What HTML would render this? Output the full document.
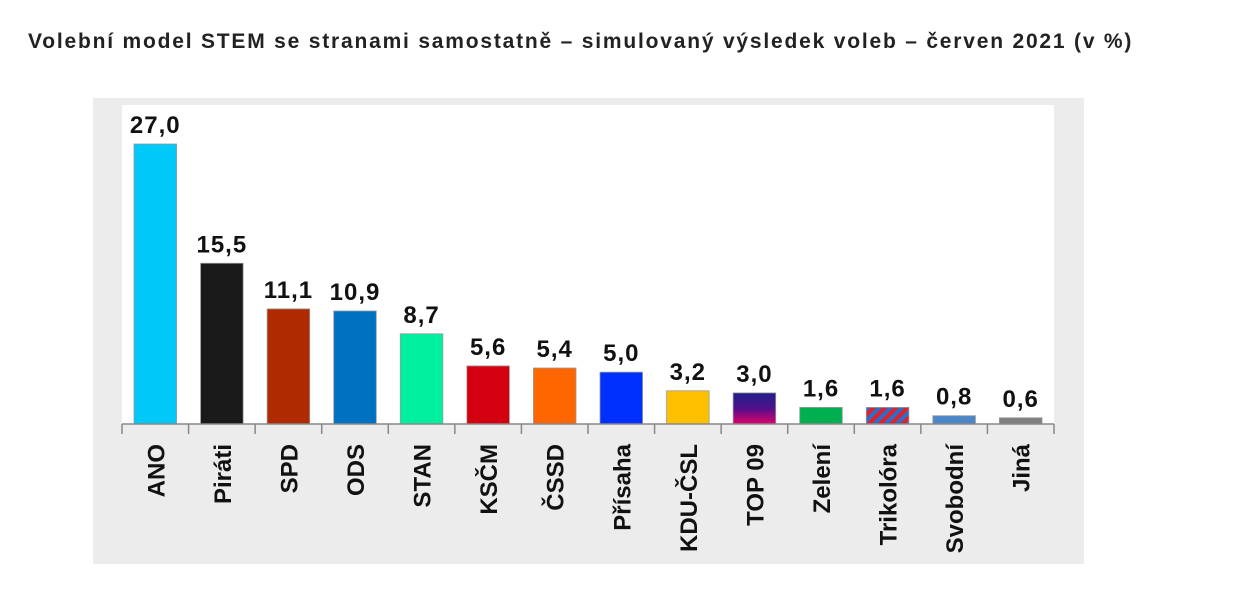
<!DOCTYPE html>
<html><head><meta charset="utf-8"><style>
body{margin:0;background:#fff;width:1237px;height:593px;overflow:hidden;font-family:"Liberation Sans",sans-serif}
#title{position:absolute;left:28px;top:30px;font-size:21px;letter-spacing:1.8px;font-weight:bold;color:#222;white-space:nowrap}
</style></head><body>
<div id="title">Volební model STEM se stranami samostatně – simulovaný výsledek voleb – červen 2021 (v %)</div>
<svg id="chart" style="position:absolute;left:0;top:0" width="1237" height="593">
<defs><pattern id="stripes" width="8" height="8" patternUnits="userSpaceOnUse" patternTransform="rotate(45)"><rect width="8" height="8" fill="#2a6fc9"/><rect width="4" height="8" fill="#e0202a"/></pattern></defs>
<rect x="93" y="98" width="991" height="466" fill="#ececec"/>
<rect x="122" y="105" width="932" height="319" fill="#fff"/>
<g id="g"></g>
</svg>
<script>
const categories=["ANO","Piráti","SPD","ODS","STAN","KSČM","ČSSD","Přísaha","KDU-ČSL","TOP 09","Zelení","Trikolóra","Svobodní","Jiná"];
const values=[27.0,15.5,11.1,10.9,8.7,5.6,5.4,5.0,3.2,3.0,1.6,1.6,0.8,0.6];
const colors=["#00c8f8","#1a1a1a","#b02a00","#0070c0","#00f0a0","#d40010","#ff6600","#0030ff","#ffc000","url(#tg)","#00b050","url(#stripes)","#4a86c8","#808080"];
const X0=122,X1=1054,Y0=424,PX=10.37;
const step=(X1-X0)/categories.length;
const x=i=>X0+i*step, y=v=>Y0-v*PX;
const ns="http://www.w3.org/2000/svg",g=document.getElementById('g');
function mk(t,a){const e=document.createElementNS(ns,t);for(const k in a)e.setAttribute(k,a[k]);g.appendChild(e);return e;}
const defs=document.querySelector('defs');
const lg=document.createElementNS(ns,'linearGradient');lg.setAttribute('id','tg');lg.setAttribute('x1','0');lg.setAttribute('y1','0');lg.setAttribute('x2','0');lg.setAttribute('y2','1');
[["0","#20208a"],["0.5","#50108a"],["1","#e0006a"]].forEach(s=>{const st=document.createElementNS(ns,'stop');st.setAttribute('offset',s[0]);st.setAttribute('stop-color',s[1]);lg.appendChild(st);});
defs.appendChild(lg);
categories.forEach((c,i)=>{
 const bx=x(i)+12,bw=step-24;
 const r=mk('rect',{x:bx,y:y(values[i]),width:bw,height:values[i]*PX,fill:colors[i],stroke:'#999','stroke-width':0.8});
 
 
 const t=mk('text',{x:x(i)+step/2,y:y(values[i])-11,'text-anchor':'middle','font-size':24,'letter-spacing':1,'font-weight':'bold',fill:'#111'});
 t.textContent=values[i].toFixed(1).replace('.',',');
 
 
 const l=mk('text',{transform:`translate(${x(i)+step/2+9},444) rotate(-90)`,'text-anchor':'end','font-size':24,'font-weight':'bold',fill:'#111'});
 l.textContent=c;
 
 
});
for(let i=0;i<=categories.length;i++){
 const tk=mk('line',{x1:x(i),x2:x(i),y1:Y0,y2:Y0+10,stroke:'#888','stroke-width':1.5});
 
 
}
const ax=mk('line',{x1:X0,x2:X1,y1:Y0,y2:Y0,stroke:'#888','stroke-width':1.5});


</script>
</body></html>
